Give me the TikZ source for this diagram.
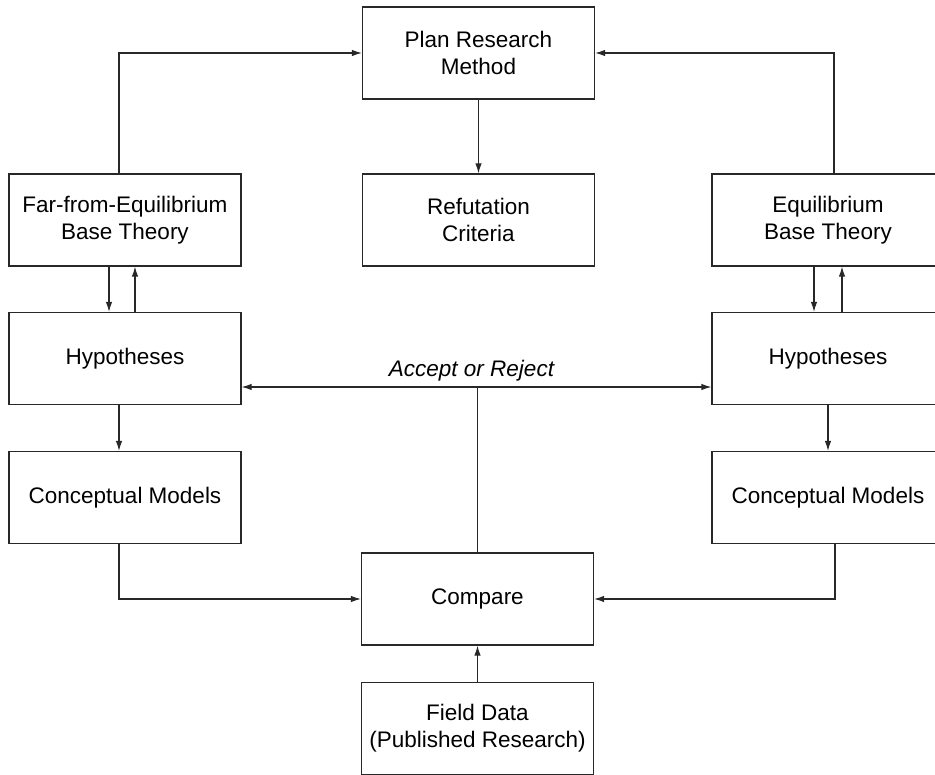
\documentclass[tikz,border=0pt]{standalone}
\usepackage{fontspec}
\setmainfont{Liberation Sans}
\usepackage{tikz}
\usetikzlibrary{arrows.meta}
\definecolor{boxline}{RGB}{40,40,40}
\newcommand{\boxfont}{\fontsize{22.5}{27}\selectfont}
\tikzset{
  blk/.style={draw=boxline, line width=1.3pt, minimum width=232pt, minimum height=92pt,
              inner sep=0pt, align=center, font=\boxfont},
  flowarr/.style={-{Latex[length=10pt,width=6.5pt]}, boxline, line width=1.1pt},
  flowline/.style={boxline, line width=1.1pt},
}

\begin{document}
\begin{tikzpicture}[x=1pt,y=-1pt]
  \useasboundingbox (0,0) rectangle (935,775);
  \clip (0,0) rectangle (935,775);
  % boxes
  \node[blk] (plan)  at (478.5,53)  {Plan Research\\Method};
  \node[blk] (farth) at (125,220)   {Far-from-Equilibrium\\Base Theory};
  \node[blk] (refut) at (478.5,220) {Refutation\\Criteria};
  \node[blk] (eqth)  at (828,220)   {Equilibrium\\Base Theory};
  \node[blk] (hypl)  at (125,358.5) {Hypotheses};
  \node[blk] (hypr)  at (828,358.5) {Hypotheses};
  \node[blk] (cml)   at (125,497.5) {Conceptual Models};
  \node[blk] (cmr)   at (828,497.5) {Conceptual Models};
  \node[blk] (comp)  at (477.5,599) {Compare};
  \node[blk] (field) at (477.5,728.5) {Field Data\\(Published Research)};
  % connectors
  \draw[flowarr] ([xshift=-6pt]farth.north) |- (plan.west);
  \draw[flowarr] ([xshift=6pt]eqth.north) |- (plan.east);
  \draw[flowarr] (plan.south) -- (refut.north);
  \draw[flowarr] ([xshift=-16pt]farth.south) -- ([xshift=-16pt]hypl.north);
  \draw[flowarr] ([xshift=10pt]hypl.north) -- ([xshift=10pt]farth.south);
  \draw[flowarr] ([xshift=-14pt]eqth.south) -- ([xshift=-14pt]hypr.north);
  \draw[flowarr] ([xshift=14pt]hypr.north) -- ([xshift=14pt]eqth.south);
  \draw[flowarr] ([xshift=-6pt]hypl.south) -- ([xshift=-6pt]cml.north);
  \draw[flowarr] (hypr.south) -- (cmr.north);
  \draw[flowarr] ([xshift=-6pt]cml.south) |- (comp.west);
  \draw[flowarr] ([xshift=7pt]cmr.south) |- (comp.east);
  \draw[flowarr] (field.north) -- (comp.south);
  % accept or reject
  \coordinate (acc) at (477.5,387);
  \draw[flowline] (comp.north) -- (acc);
  \draw[flowarr] (acc) -- (acc -| hypl.east);
  \draw[flowarr] (acc) -- (acc -| hypr.west);
  \node[font=\boxfont\itshape, anchor=base] (acclbl) at (471.5,376.5) {Accept or Reject};
\end{tikzpicture}
\end{document}
